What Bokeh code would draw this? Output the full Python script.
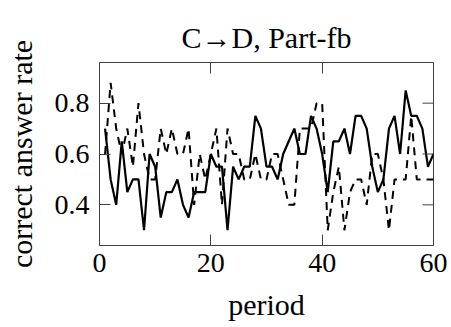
import math
from bokeh.plotting import figure
from bokeh.models import Range1d, FixedTicker, ColumnDataSource, LinearAxis
from bokeh.embed import file_html
from bokeh.resources import INLINE

periods = list(range(1, 61))
solid_rate = [0.70, 0.50, 0.40, 0.65, 0.45, 0.50, 0.50, 0.30, 0.60, 0.55,
              0.35, 0.45, 0.45, 0.50, 0.40, 0.35, 0.45, 0.45, 0.45, 0.60,
              0.55, 0.55, 0.30, 0.55, 0.50, 0.55, 0.55, 0.75, 0.70, 0.55,
              0.55, 0.50, 0.60, 0.65, 0.70, 0.60, 0.60, 0.75, 0.70, 0.60,
              0.45, 0.65, 0.65, 0.70, 0.60, 0.75, 0.75, 0.70, 0.55, 0.45,
              0.50, 0.70, 0.75, 0.60, 0.85, 0.75, 0.75, 0.70, 0.55, 0.60]
dashed_rate = [0.60, 0.88, 0.70, 0.60, 0.70, 0.55, 0.80, 0.60, 0.50, 0.50,
               0.70, 0.60, 0.70, 0.60, 0.60, 0.70, 0.40, 0.60, 0.50, 0.60,
               0.70, 0.40, 0.70, 0.60, 0.60, 0.50, 0.50, 0.60, 0.50, 0.50,
               0.60, 0.60, 0.50, 0.40, 0.40, 0.70, 0.70, 0.70, 0.80, 0.80,
               0.30, 0.45, 0.55, 0.30, 0.45, 0.50, 0.50, 0.40, 0.60, 0.60,
               0.50, 0.30, 0.50, 0.50, 0.50, 0.75, 0.50, 0.50, 0.50, 0.50]
x_ticks = [0, 20, 40, 60]
y_ticks = [0.4, 0.6, 0.8]
x_lo, x_hi = 0, 60
y_lo, y_hi = 0.24, 0.96
title_text = "C\u2192D, Part-fb"

FONT = "Liberation Serif"
FS = "30px"
TFS = "28px"
AX = "#404040"

src = ColumnDataSource(dict(period=periods, solid=solid_rate, dashed=dashed_rate))

p = figure(width=451, height=327, output_backend="svg", toolbar_location=None,
           x_range=Range1d(x_lo, x_hi), y_range=Range1d(y_lo, y_hi),
           min_border_left=99, min_border_right=18, min_border_top=62,
           min_border_bottom=82, background_fill_color="white",
           border_fill_color="white")

p.title.text = title_text
p.title.align = "center"
p.title.vertical_align = "top"
p.title.text_font = FONT
p.title.text_font_size = FS
p.title.text_font_style = "normal"
p.title.text_color = "black"
p.title.standoff = 14

p.grid.visible = False
p.outline_line_color = AX
p.outline_line_width = 1

p.line("period", "dashed", source=src, line_color="black", line_width=2,
       line_dash="8 6")
p.line("period", "solid", source=src, line_color="black", line_width=2.2)

# mirrored inward ticks on the right frame edge
p.ray(x=[x_hi] * len(y_ticks), y=y_ticks, length=11, length_units="screen",
      angle=math.pi, line_color=AX, line_width=1)

def style(ax, ticks):
    ax.ticker = FixedTicker(ticks=ticks)
    ax.major_tick_in = 11
    ax.major_tick_out = 0
    ax.minor_tick_line_color = None
    ax.major_tick_line_color = AX
    ax.axis_line_color = None
    ax.major_label_text_font = FONT
    ax.major_label_text_font_size = TFS
    ax.major_label_text_color = "black"
    ax.axis_label_text_font = FONT
    ax.axis_label_text_font_size = FS
    ax.axis_label_text_font_style = "normal"
    ax.axis_label_text_color = "black"

xa = p.xaxis[0]
ya = p.yaxis[0]
style(xa, x_ticks)
style(ya, y_ticks)
xa.axis_label = "period"
ya.axis_label = "correct answer rate"
xa.major_label_standoff = 8
ya.major_label_standoff = 10
xa.axis_label_standoff = 13
ya.axis_label_standoff = 14

# top axis: inward ticks only (labels invisible)
top = LinearAxis()
top.ticker = FixedTicker(ticks=x_ticks)
top.major_tick_in = 11
top.major_tick_out = 0
top.minor_tick_line_color = None
top.major_tick_line_color = AX
top.axis_line_color = None
top.major_label_text_font_size = "1px"
top.major_label_text_color = None
top.major_label_text_alpha = 0
top.major_label_standoff = 20
p.add_layout(top, "above")

open("out.html", "w").write(file_html(p, INLINE))
